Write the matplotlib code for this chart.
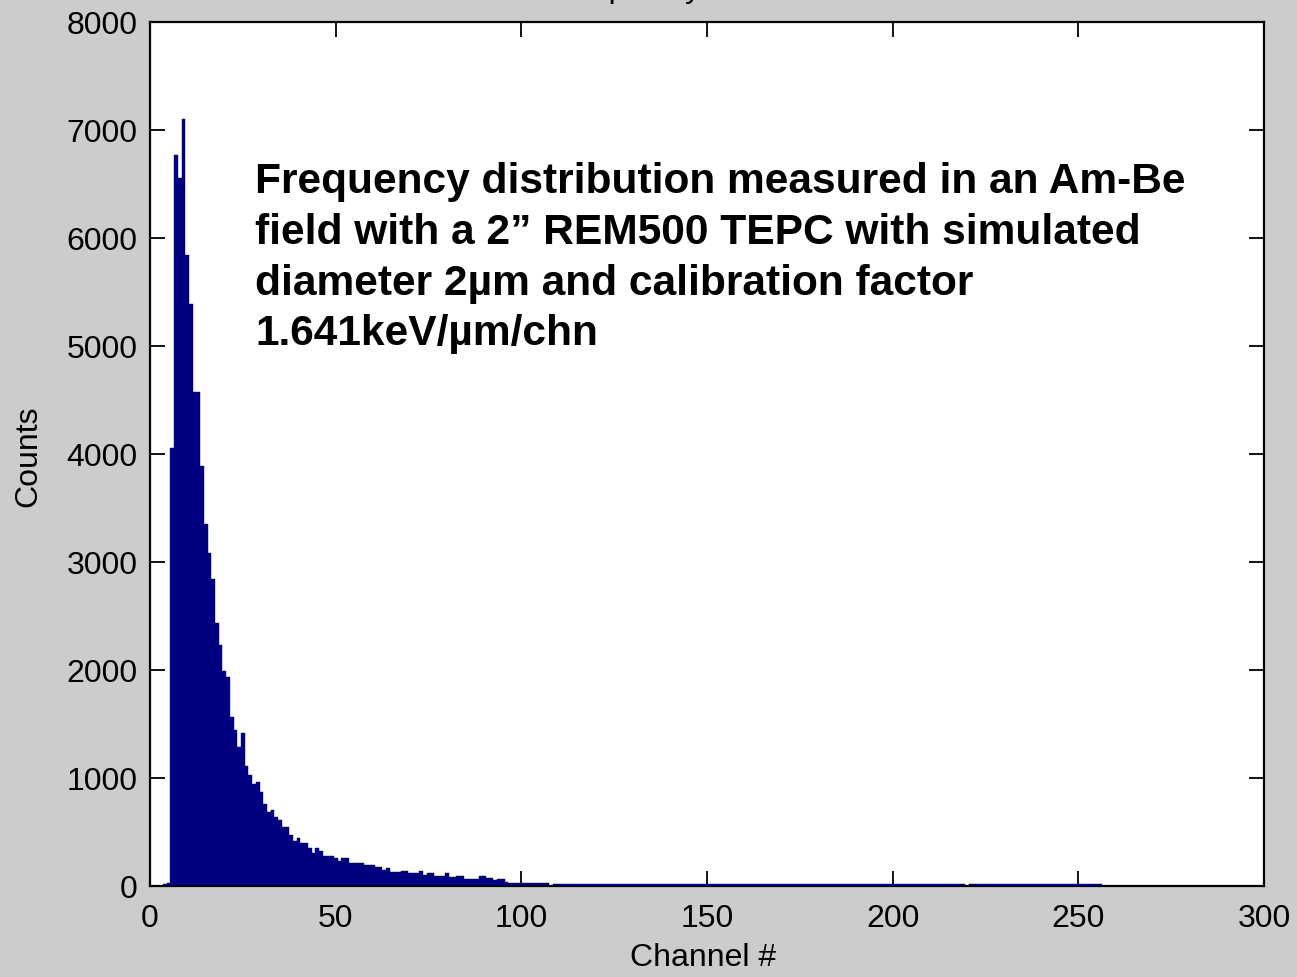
import numpy as np
import matplotlib
matplotlib.use("Agg")
import matplotlib.pyplot as plt

# ---- data ----
channels = np.arange(4, 257)

counts_head = [
    20, 25, 4058, 6768, 6552, 7099, 5843, 5389, 4577, 4577,      # 4-13
    3889, 3349, 3080, 2846, 2438, 2231, 1994, 1938, 1568, 1444,  # 14-23
    1290, 1414, 1111, 1028, 944, 966, 873, 759, 688, 704,        # 24-33
    640, 611, 543, 543, 472, 420, 448, 401, 401, 349,            # 34-43
    302, 349, 327, 281, 281, 281, 256, 234, 256, 256,            # 44-53
    216, 216, 216, 216, 194, 194, 194, 173, 173, 148,            # 54-63
    164, 132, 132, 132, 140, 140, 117, 117, 117, 142,            # 64-73
    102, 117, 117, 93, 93, 93, 117, 80, 80, 93,                  # 74-83
    93, 65, 65, 65, 65, 93, 93, 71, 71, 56,                      # 84-93
    65, 65, 40, 25, 25, 25, 25, 25, 25, 25,                      # 94-103
    25, 25, 25, 25,                                              # 104-107
]
counts_tail = [
    0,                                                           # 108
    20, 20, 20, 20, 20, 20, 20, 20, 20, 20, 20,                  # 109-119
    20, 20, 20, 20, 20, 20, 20, 20, 20, 20,                      # 120-129
    20, 20, 20, 20, 20, 20, 20, 20, 20, 20,                      # 130-139
    20, 20, 20, 20, 20, 20, 20, 20, 20, 20,                      # 140-149
    20, 20, 20, 20, 20, 20, 20, 20, 20, 20,                      # 150-159
    20, 20, 20, 20, 20, 20, 20, 20, 20, 20,                      # 160-169
    20, 20, 20, 20, 20, 20, 20, 20, 20, 20,                      # 170-179
    20, 20, 20, 20, 20, 20, 20, 20, 20, 20,                      # 180-189
    20, 20, 20, 20, 20, 20, 20, 20, 20, 20,                      # 190-199
    20, 20, 20, 20, 20, 20, 20, 20, 20, 20,                      # 200-209
    20, 20, 20, 20, 20, 20, 20, 20, 20, 20,                      # 210-219
    0,                                                           # 220
    20, 20, 20, 20, 20, 20, 20, 20, 20,                          # 221-229
    20, 20, 20, 20, 20, 20, 20, 20, 20, 20,                      # 230-239
    20, 20, 20, 20, 20, 20, 20, 20, 20, 20,                      # 240-249
    20, 20, 20, 20, 20, 20, 20,                                  # 250-256
]
counts = counts_head + counts_tail

x_ticks = [0, 50, 100, 150, 200, 250, 300]
y_ticks = [0, 1000, 2000, 3000, 4000, 5000, 6000, 7000, 8000]

title_text = "Frequency distribution"
x_label = "Channel #"
y_label = "Counts"
note_lines = [
    "Frequency distribution measured in an Am-Be",
    "field with a 2\u201d REM500 TEPC with simulated",
    "diameter 2\u00b5m and calibration factor",
    "1.641keV/\u00b5m/chn",
]

# ---- figure ----
W, H = 1297, 977
plt.rcParams['font.family'] = ['Liberation Sans', 'DejaVu Sans']
fig = plt.figure(figsize=(W / 100, H / 100), dpi=100, facecolor='#cccccc')
ax_l, ax_r, ax_t, ax_b = 150, 1264, 22, 886
ax = fig.add_axes([ax_l / W, 1 - ax_b / H, (ax_r - ax_l) / W, (ax_b - ax_t) / H])
ax.set_facecolor('white')

ax.bar(channels, counts, width=1.0, color='#000080', edgecolor='#000080',
       linewidth=0.3, zorder=2)

ax.set_xlim(0, 300)
ax.set_ylim(0, 8000)
ax.set_xticks(x_ticks)
ax.set_yticks(y_ticks)
ax.tick_params(axis='both', which='both', direction='in', length=11, width=1.3,
               top=True, right=True, labelsize=23, colors='black')
ax.tick_params(axis='y', pad=9)
ax.tick_params(axis='x', pad=13)
for s in ax.spines.values():
    s.set_linewidth(1.6)
    s.set_color('black')
    s.set_zorder(5)

# axis labels
fig.text(703 / W, 1 - 958 / H, x_label, ha='center', va='center', fontsize=23)
fig.text(28 / W, 1 - 456 / H, y_label, ha='center', va='center',
         rotation=90, fontsize=23)

# clipped title above the plot (only descenders visible, as in the reference)
fig.text(707 / W, 1 + 3 / H, title_text, ha='center', va='baseline', fontsize=23)

# annotation block
baselines = [193.5, 244.1, 294.7, 345.3]
for line, yb in zip(note_lines, baselines):
    ax.text((255 - ax_l) / (ax_r - ax_l), (ax_b - yb) / (ax_b - ax_t), line,
            transform=ax.transAxes, ha='left', va='baseline',
            fontsize=30.6, fontweight='bold', color='black', zorder=6)

fig.savefig("out.png", dpi=100, facecolor=fig.get_facecolor())
